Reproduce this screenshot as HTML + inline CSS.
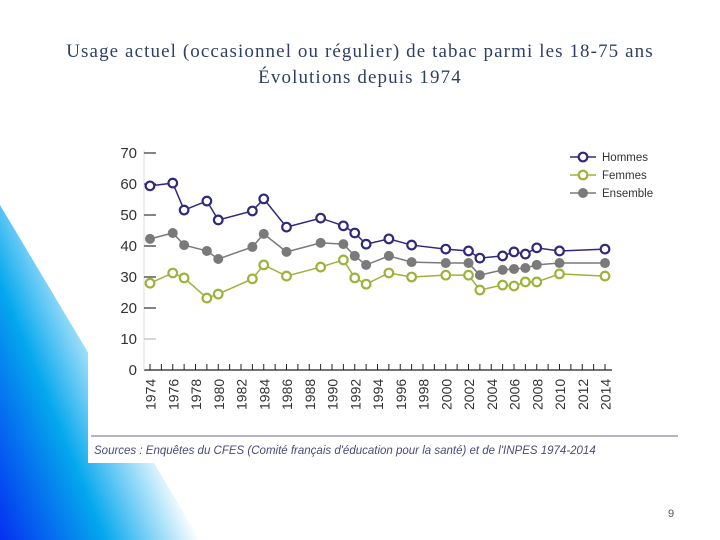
<!DOCTYPE html>
<html><head><meta charset="utf-8"><style>
body{margin:0;width:720px;height:540px;overflow:hidden;background:#fff;font-family:"Liberation Sans",sans-serif;position:relative}
.title{position:absolute;left:0;width:720px;text-align:center;font-family:"Liberation Serif",serif;font-size:19px;letter-spacing:1.1px;color:#2f3f66;line-height:26px;top:39px}
</style></head><body>
<svg width="720" height="540" style="position:absolute;left:0;top:0">
<defs><linearGradient id="g" x1="0" y1="1" x2="0.8" y2="0.45">
<stop offset="0" stop-color="#0530f0"/><stop offset="0.45" stop-color="#05a8ee"/><stop offset="0.85" stop-color="#ffffff"/></linearGradient></defs>
<polygon points="0,205 200,540 0,540" fill="url(#g)"/>
<rect x="88" y="135" width="592" height="328" fill="#fff"/>
</svg>
<div class="title">Usage actuel (occasionnel ou régulier) de tabac parmi les 18-75 ans<br>Évolutions depuis 1974</div>
<svg id="chart" width="720" height="540" style="position:absolute;left:0;top:0"></svg>
<div style="position:absolute;left:668px;top:508px;font-size:11px;color:#555">9</div>
<script>
const years=[1974,1976,1977,1979,1980,1983,1984,1986,1989,1991,1992,1993,1995,1997,2000,2002,2003,2005,2006,2007,2008,2010,2014];
const hommes=[59.4,60.3,51.6,54.5,48.4,51.3,55.2,46.1,49,46.5,44.2,40.6,42.3,40.3,39,38.4,36.1,36.8,38.1,37.4,39.4,38.4,39];
const femmes=[28,31.3,29.7,23.2,24.5,29.4,33.9,30.3,33.2,35.5,29.7,27.7,31.3,30,30.6,30.6,25.8,27.4,27.1,28.4,28.4,31,30.3];
const ensemble=[42.3,44.2,40.3,38.4,35.8,39.7,43.9,38.1,41,40.6,36.8,33.9,36.8,34.8,34.5,34.5,30.6,32.3,32.6,32.9,33.9,34.5,34.5];
const yTicks=[0,10,20,30,40,50,60,70];
const xTicks=[1974,1976,1978,1980,1982,1984,1986,1988,1990,1992,1994,1996,1998,2000,2002,2004,2006,2008,2010,2012,2014];
const svg=document.getElementById('chart');const NS='http://www.w3.org/2000/svg';
const X=y=>150+(y-1974)*11.375;const Y=v=>370-v*3.1;
function mk(t,a,p){const e=document.createElementNS(NS,t);for(const k in a)e.setAttribute(k,a[k]);(p||svg).appendChild(e);return e;}
let ax=mk('line',{x1:144,y1:370,x2:612,y2:370,stroke:'#222','stroke-width':1.3});


let ay=mk('line',{x1:144,y1:150,x2:144,y2:370,stroke:'#ddd','stroke-width':1});


yTicks.forEach(v=>{
 if(v>0){let l=mk('line',{x1:144,y1:Y(v),x2:156,y2:Y(v),stroke:v==10?'#bbb':'#333','stroke-width':1.2});
 
 }
 let t=mk('text',{x:137,y:Y(v)+5,'text-anchor':'end','font-size':15,fill:'#333'});t.textContent=v;
 
 
});
for(let y=1974;y<=2014;y++){let l=mk('line',{x1:X(y),y1:364,x2:X(y),y2:370,stroke:'#222','stroke-width':1});
 
 }
xTicks.forEach(y=>{let t=mk('text',{transform:`translate(${X(y)+5.5},410) rotate(-90)`,'font-size':14,fill:'#333'});t.textContent=y;
 
 });
function series(vals,color,filled,name){
 let p=mk('polyline',{points:years.map((y,i)=>X(y)+','+Y(vals[i])).join(' '),fill:'none',stroke:color,'stroke-width':1.5});
 
 
 years.forEach((y,i)=>{let c=mk('circle',{cx:X(y),cy:Y(vals[i]),r:filled?5:4.3,fill:filled?color:'#fff',stroke:color,'stroke-width':filled?0:2.2});
 
 });
}
series(ensemble,'#7a7a7a',true,'ensemble');
series(femmes,'#9cb33a',false,'femmes');
series(hommes,'#2f2a7a',false,'hommes');
[['Hommes','#2f2a7a',false,157],['Femmes','#9cb33a',false,175],['Ensemble','#7a7a7a',true,193]].forEach(([n,c,f,y])=>{
 let g=mk('g',{});
 
 
 mk('line',{x1:570,y1:y,x2:596,y2:y,stroke:c,'stroke-width':1.5},g);
 mk('circle',{cx:583,cy:y,r:f?5:4.3,fill:f?c:'#fff',stroke:c,'stroke-width':f?0:2.2},g);
 let t=mk('text',{x:602,y:y+4,'font-size':11.5,fill:'#333'},g);t.textContent=n;
});
let sl=mk('line',{x1:91,y1:436,x2:678,y2:436,stroke:'#6a6a8a','stroke-width':1});


let st=mk('text',{x:94,y:454,'font-size':11.5,'font-style':'italic',fill:'#4a4a78'});
st.textContent="Sources : Enquêtes du CFES (Comité français d'éducation pour la santé) et de l'INPES 1974-2014";


</script>
</body></html>
